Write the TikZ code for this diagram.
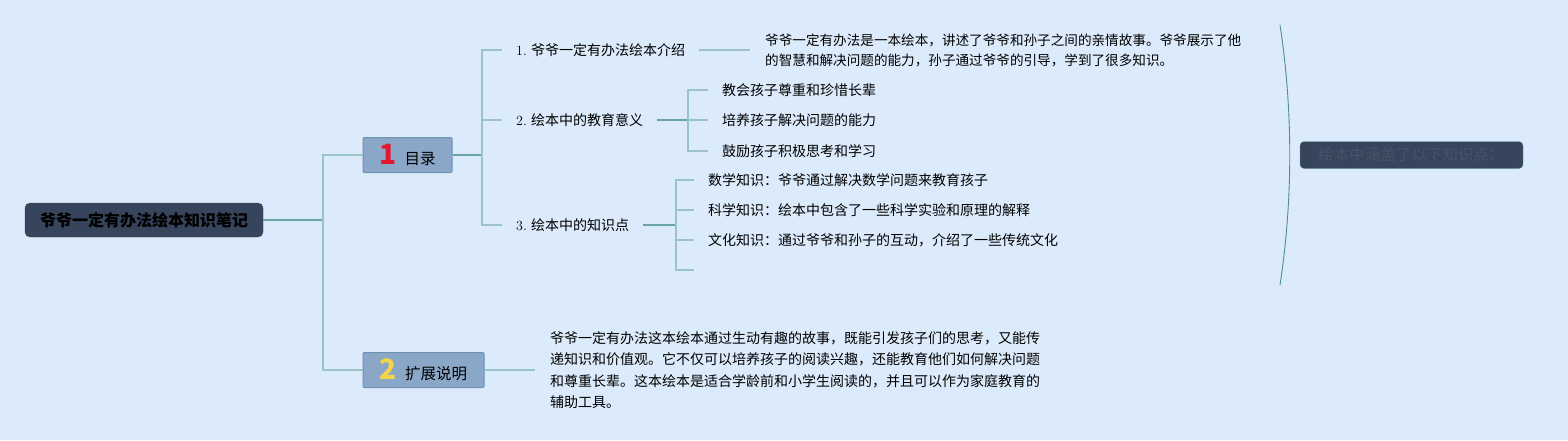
\documentclass[tikz,border=0pt]{standalone}
\usepackage{fontspec}
\newfontfamily\cjk{Noto Sans CJK SC}
\usetikzlibrary{positioning}
\definecolor{PaperBlue} {HTML}{DCEBFB}
\definecolor{RootNavy}  {HTML}{36445C}
\definecolor{TopicBlue} {HTML}{8AA7C8}
\definecolor{TopicEdge} {HTML}{6D92B0}
\definecolor{TrunkTeal} {HTML}{6AA3A9}
\definecolor{TwigTeal}  {HTML}{9AC3CC}
\definecolor{BraceTeal} {HTML}{4E8C98}
\definecolor{NumRed}    {HTML}{E3172D}
\definecolor{NumYellow} {HTML}{F3D54A}
\definecolor{SumText}   {HTML}{46546A}
\newcommand{\topicnum}[2]{{\fontsize{28}{28}\selectfont\bfseries\color{#1}#2}}
\tikzset{
  rootbox/.style={rectangle,rounded corners=5pt,fill=RootNavy,draw=RootNavy,
                  minimum height=34pt,inner xsep=15pt,
                  font=\fontsize{16}{18}\selectfont\cjk\bfseries},
  topic/.style={rectangle,rounded corners=1pt,fill=TopicBlue,draw=TopicEdge,
                line width=1pt,minimum height=35pt,inner ysep=0pt,
                font=\fontsize{15.5}{18}\selectfont\cjk},
  leaf/.style={anchor=west,inner xsep=14pt,inner ysep=2pt,
               font=\fontsize{14}{17}\selectfont\cjk},
  para/.style={anchor=west,align=left,inner xsep=15pt,
               font=\fontsize{14}{21.3}\selectfont\cjk},
  sumbox/.style={rectangle,rounded corners=4pt,fill=RootNavy,draw=TrunkTeal,
                 minimum height=27pt,minimum width=223pt,inner xsep=16pt,
                 font=\fontsize{15.5}{18}\selectfont\cjk\color{SumText}},
  trunk/.style={draw=TrunkTeal,line width=1.4pt},
  twig/.style={draw=TwigTeal,line width=1.1pt},
}
\begin{document}
\begin{tikzpicture}[x=1pt,y=-1pt]
  \fill[PaperBlue] (0,0) rectangle (1568,440);
  \useasboundingbox (0,0) rectangle (1568,440);

  % root and main topics
  \node[rootbox] (root) at (144,220) {爷爷一定有办法绘本知识笔记};
  \node[topic,minimum width=89pt]  (t1) at (407.5,155)
    {\topicnum{NumRed}{1}\hspace{8pt}目录};
  \node[topic,minimum width=121pt] (t2) at (423.5,370)
    {\topicnum{NumYellow}{2}\hspace{8pt}扩展说明};
  \coordinate (h0) at (323,220);
  \draw[trunk] (root.east) -- (h0);
  \draw[twig] (h0) |- (t1.west);
  \draw[twig] (h0) |- (t2.west);

  % branch 1
  \coordinate (h1) at (482,155);
  \node[leaf] (c1) at (502,50)  {{\rmfamily 1.} 爷爷一定有办法绘本介绍};
  \node[leaf] (c2) at (502,120) {{\rmfamily 2.} 绘本中的教育意义};
  \node[leaf] (c3) at (502,225) {{\rmfamily 3.} 绘本中的知识点};
  \draw[trunk] (t1.east) -- (h1);
  \foreach \c in {c1,c2,c3}
    \draw[twig] (h1) |- (\c.west);

  \node[para,font=\fontsize{13.6}{20}\selectfont\cjk] (p1) at (750,50)
    {爷爷一定有办法是一本绘本，讲述了爷爷和孙子之间的亲情故事。爷爷展示了他\\
     的智慧和解决问题的能力，孙子通过爷爷的引导，学到了很多知识。};
  \draw[twig] (c1.east) -- (p1.west);

  \coordinate (h2) at (688,120);
  \node[leaf] (c21) at (708,90)  {教会孩子尊重和珍惜长辈};
  \node[leaf] (c22) at (708,120) {培养孩子解决问题的能力};
  \node[leaf] (c23) at (708,151) {鼓励孩子积极思考和学习};
  \draw[trunk] (c2.east) -- (h2);
  \foreach \c in {c21,c22,c23}
    \draw[twig] (h2) |- (\c.west);

  \coordinate (h3) at (676,225);
  \node[leaf] (c31) at (694,180) {数学知识：爷爷通过解决数学问题来教育孩子};
  \node[leaf] (c32) at (694,210) {科学知识：绘本中包含了一些科学实验和原理的解释};
  \node[leaf] (c33) at (694,240) {文化知识：通过爷爷和孙子的互动，介绍了一些传统文化};
  \coordinate (c34) at (694,270);
  \draw[trunk] (c3.east) -- (h3);
  \foreach \c in {c31,c32,c33}
    \draw[twig] (h3) |- (\c.west);
  \draw[twig] (h3) |- (c34);

  % summary
  \coordinate (s1) at (1280,25);
  \coordinate (s2) at (1280,285);
  \draw[BraceTeal,line width=0.9pt] (s1) .. controls (1293,110) and (1293,200) .. (s2);
  \node[sumbox] (sum) at (1411.5,155) {绘本中涵盖了以下知识点：};

  % branch 2
  \node[para] (p2) at (535,370)
    {爷爷一定有办法这本绘本通过生动有趣的故事，既能引发孩子们的思考，又能传\\
     递知识和价值观。它不仅可以培养孩子的阅读兴趣，还能教育他们如何解决问题\\
     和尊重长辈。这本绘本是适合学龄前和小学生阅读的，并且可以作为家庭教育的\\
     辅助工具。};
  \draw[twig] (t2.east) -- (p2.west);

\end{tikzpicture}
\end{document}
